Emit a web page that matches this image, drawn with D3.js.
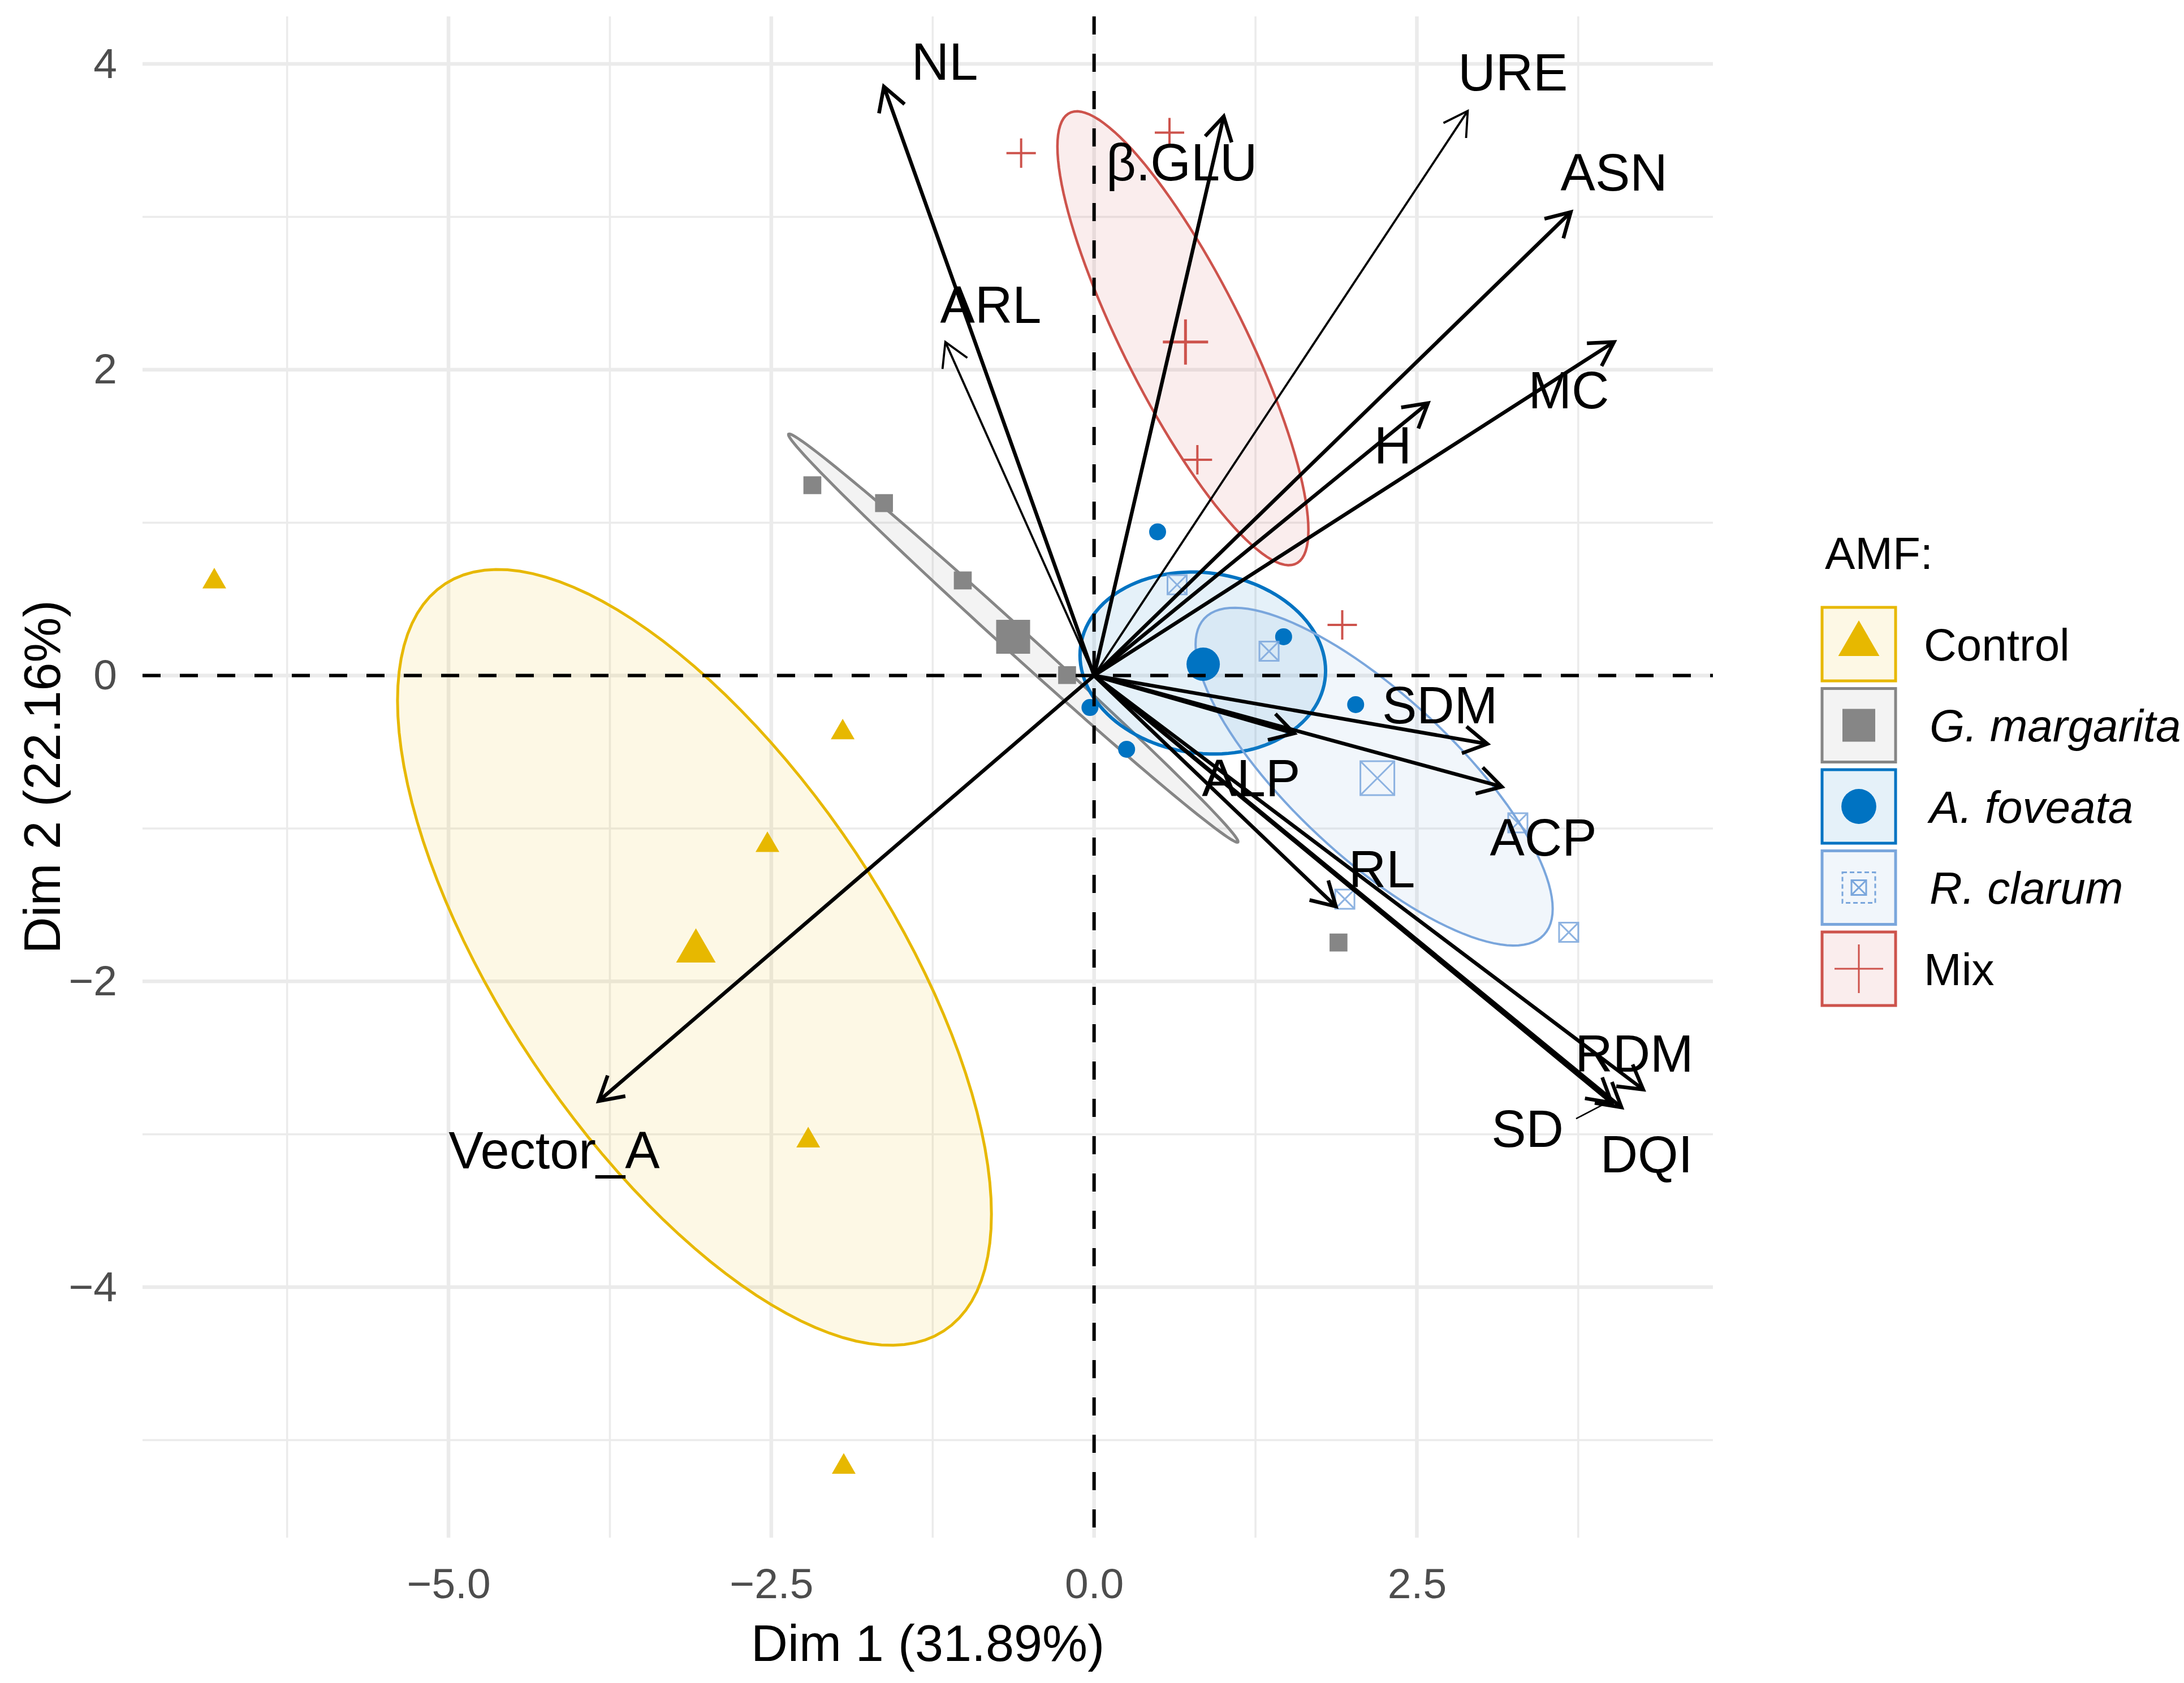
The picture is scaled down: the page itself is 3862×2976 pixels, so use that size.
<!DOCTYPE html>
<html>
<head>
    <title>PCA biplot - AMF</title>
    <script src="https://cdnjs.cloudflare.com/ajax/libs/d3/7.8.5/d3.min.js"></script>
    <style>
        body { margin: 0; background: #fff; }
        text { font-family: "Liberation Sans", Arial, sans-serif; }
    </style>
</head>
<body>
    <svg id="chart"></svg>

    <script>
        const width = 3862;
        const height = 2976;
        const panel = {left: 252, right: 3029, top: 29, bottom: 2719};

        // groups (AMF treatment)
        const groups = ["Control", "G. margarita", "A. foveata", "R. clarum", "Mix"];
        const groupItalic = [false, true, true, true, false];
        const groupColors = ["#E7B800", "#868686", "#0073C2", "#7AA6DC", "#CD534C"];

        // individuals (Dim 1, Dim 2)
        const indGroup = [0, 0, 0, 0, 0, 1, 1, 1, 1, 1, 2, 2, 2, 2, 2, 3, 3, 3, 3, 3, 4, 4, 4, 4];
        const indX = [-6.814, -1.947, -2.530, -2.214, -1.939,
                      -2.182, -1.627, -1.017, -0.209, 1.893,
                      1.468, 2.026, -0.032, 0.252, 0.492,
                      1.355, 1.942, 3.282, 3.676, 0.643,
                      0.584, 0.800, 1.922, -0.565];
        const indY = [0.615, -0.372, -1.109, -3.041, -5.175,
                      1.245, 1.128, 0.622, 0.003, -1.746,
                      0.254, -0.190, -0.209, -0.482, 0.940,
                      0.159, -1.462, -0.963, -1.679, 0.594,
                      3.551, 1.411, 0.331, 3.417];

        // group means
        const meanX = [-3.084, -0.627, 0.845, 2.194, 0.708];
        const meanY = [-1.802, 0.254, 0.074, -0.671, 2.182];

        // ellipses: centre and two conjugate semi-axes
        const ellCx = [-3.095, -0.626, 0.842, 2.169, 0.688];
        const ellCy = [-1.843, 0.245, 0.082, -0.661, 2.206];
        const ellUx = [2.300, 1.740, 0.951, 1.383, 0.972];
        const ellUy = [-1.679, -1.334, -0.051, -0.864, -1.254];
        const ellVx = [0, -0.065, 0, 0, 0];
        const ellVy = [1.902, -0.060, 0.593, 0.688, 0.794];

        // variables (arrow tips) and their label positions
        const varNames = ["NL", "ARL", "β.GLU", "URE", "ASN", "MC", "H", "SDM", "ACP", "ALP",
                          "RL", "RDM", "SD", "DQI", "Vector_A"];
        const varX = [-1.628, -1.152, 1.004, 2.894, 3.692, 4.027, 2.586, 3.046, 3.158, 1.550,
                      1.873, 4.253, 4.009, 4.085, -3.837];
        const varY = [3.852, 2.182, 3.657, 3.693, 3.031, 2.182, 1.782, -0.447, -0.727, -0.378,
                      -1.510, -2.707, -2.794, -2.824, -2.783];
        const varThin = [false, true, false, true, false, false, false, false, false, false,
                         false, false, false, false, false];
        const labelX = [-1.157, -0.800, 0.679, 3.244, 4.027, 3.676, 2.314, 2.678, 3.479, 1.216,
                        2.229, 4.184, 3.357, 4.278, -4.182];
        const labelY = [4.020, 2.430, 3.360, 3.949, 3.295, 1.871, 1.508, -0.190, -1.056, -0.665,
                        -1.261, -2.467, -2.960, -3.127, -3.100];
        // leader segment for the SD label
        const leaderX = [3.733, 3.968];
        const leaderY = [-2.898, -2.794];

        // axes
        const xTicks = [-5, -2.5, 0, 2.5];
        const xMinor = [-6.25, -3.75, -1.25, 1.25, 3.75];
        const yTicks = [-4, -2, 0, 2, 4];
        const yMinor = [-5, -3, -1, 1, 3];

        const svg = d3.select("#chart")
            .attr("width", width)
            .attr("height", height);

        svg.append("rect").attr("width", width).attr("height", height).attr("fill", "#fff");

        const x = d3.scaleLinear().domain([-7.37, 4.793]).range([panel.left, panel.right]);
        const y = d3.scaleLinear().domain([-5.638, 4.311]).range([panel.bottom, panel.top]);

        // grid
        const grid = svg.append("g");
        grid.selectAll(".xminor").data(xMinor).join("line")
            .attr("x1", d => x(d)).attr("x2", d => x(d))
            .attr("y1", panel.top).attr("y2", panel.bottom)
            .attr("stroke", "#EBEBEB").attr("stroke-width", 3.5);
        grid.selectAll(".yminor").data(yMinor).join("line")
            .attr("y1", d => y(d)).attr("y2", d => y(d))
            .attr("x1", panel.left).attr("x2", panel.right)
            .attr("stroke", "#EBEBEB").attr("stroke-width", 3.5);
        grid.selectAll(".xmajor").data(xTicks).join("line")
            .attr("x1", d => x(d)).attr("x2", d => x(d))
            .attr("y1", panel.top).attr("y2", panel.bottom)
            .attr("stroke", "#EBEBEB").attr("stroke-width", 6.5);
        grid.selectAll(".ymajor").data(yTicks).join("line")
            .attr("y1", d => y(d)).attr("y2", d => y(d))
            .attr("x1", panel.left).attr("x2", panel.right)
            .attr("stroke", "#EBEBEB").attr("stroke-width", 6.5);

        const plot = svg.append("g");

        // ellipses
        const ellLine = d3.line().x(d => x(d[0])).y(d => y(d[1])).curve(d3.curveLinearClosed);
        const ellWidths = [5, 5, 6, 4, 4.5];
        groups.forEach((g, i) => {
            const pts = d3.range(120).map(k => {
                const t = k / 120 * 2 * Math.PI;
                return [ellCx[i] + ellUx[i] * Math.cos(t) + ellVx[i] * Math.sin(t),
                        ellCy[i] + ellUy[i] * Math.cos(t) + ellVy[i] * Math.sin(t)];
            });
            plot.append("path")
                .attr("d", ellLine(pts))
                .attr("fill", groupColors[i]).attr("fill-opacity", 0.1)
                .attr("stroke", groupColors[i]).attr("stroke-width", ellWidths[i]);
        });

        // point symbols
        function plusPath(h) { return `M${-h},0H${h}M0,${-h}V${h}`; }
        function boxXPath(h) {
            return `M${-h},${-h}H${h}V${h}H${-h}ZM${-h},${-h}L${h},${h}M${h},${-h}L${-h},${h}`;
        }
        function symbolPath(gi, big) {
            if (gi === 0) return d3.symbol(d3.symbolTriangle, big ? 2122 : 764)();
            if (gi === 1) return d3.symbol(d3.symbolSquare, big ? 3600 : 1000)();
            if (gi === 2) return d3.symbol(d3.symbolCircle, big ? 2734 : 707)();
            if (gi === 3) return boxXPath(big ? 30 : 17);
            return plusPath(big ? 40 : 26);
        }
        function styleSymbol(sel, gi, big) {
            if (gi < 3) {
                sel.attr("fill", groupColors[gi]).attr("stroke", "none");
            } else {
                sel.attr("fill", "none").attr("stroke", groupColors[gi])
                    .attr("stroke-width", gi === 3 ? 3 : (big ? 5 : 4))
                    .attr("stroke-opacity", gi === 3 ? 0.85 : 1);
            }
        }

        indX.forEach((v, i) => {
            const gi = indGroup[i];
            plot.append("path")
                .attr("d", symbolPath(gi, false))
                .attr("transform", `translate(${x(v)},${y(indY[i])})`)
                .call(styleSymbol, gi, false);
        });
        meanX.forEach((v, gi) => {
            plot.append("path")
                .attr("d", symbolPath(gi, true))
                .attr("transform", `translate(${x(v)},${y(meanY[gi])})`)
                .call(styleSymbol, gi, true);
        });

        // dashed reference lines
        plot.append("line")
            .attr("x1", panel.left).attr("x2", panel.right)
            .attr("y1", y(0)).attr("y2", y(0))
            .attr("stroke", "#000").attr("stroke-width", 6).attr("stroke-dasharray", "32,34");
        plot.append("line")
            .attr("x1", x(0)).attr("x2", x(0))
            .attr("y1", panel.top).attr("y2", panel.bottom)
            .attr("stroke", "#000").attr("stroke-width", 6).attr("stroke-dasharray", "32,34");

        // variable arrows
        const headLen = 48;
        varNames.forEach((name, i) => {
            const x0 = x(0), y0 = y(0);
            const x1 = x(varX[i]), y1 = y(varY[i]);
            const a = Math.atan2(y1 - y0, x1 - x0);
            const w = varThin[i] ? 3.8 : 6.5;
            plot.append("line")
                .attr("x1", x0).attr("y1", y0).attr("x2", x1).attr("y2", y1)
                .attr("stroke", "#000").attr("stroke-width", w);
            const ax1 = x1 - headLen * Math.cos(a - Math.PI / 6), ay1 = y1 - headLen * Math.sin(a - Math.PI / 6);
            const ax2 = x1 - headLen * Math.cos(a + Math.PI / 6), ay2 = y1 - headLen * Math.sin(a + Math.PI / 6);
            plot.append("path")
                .attr("d", `M${ax1},${ay1}L${x1},${y1}L${ax2},${ay2}`)
                .attr("fill", "none").attr("stroke", "#000").attr("stroke-width", w)
                .attr("stroke-linejoin", "miter");
        });

        plot.append("line")
            .attr("x1", x(leaderX[0])).attr("y1", y(leaderY[0]))
            .attr("x2", x(leaderX[1])).attr("y2", y(leaderY[1]))
            .attr("stroke", "#000").attr("stroke-width", 2.5);

        plot.selectAll(".varlabel").data(varNames).join("text")
            .attr("x", (d, i) => x(labelX[i]))
            .attr("y", (d, i) => y(labelY[i]))
            .attr("dy", "0.36em")
            .attr("text-anchor", "middle")
            .attr("font-size", 92)
            .attr("fill", "#000")
            .text(d => d);

        // axes
        const xAxis = svg.append("g")
            .attr("transform", `translate(0,${panel.bottom})`)
            .call(d3.axisBottom(x).tickValues(xTicks).tickFormat(d3.format(".1f")).tickSize(0).tickPadding(54));
        const yAxis = svg.append("g")
            .attr("transform", `translate(${panel.left},0)`)
            .call(d3.axisLeft(y).tickValues(yTicks).tickFormat(d3.format("d")).tickSize(0).tickPadding(45));
        [xAxis, yAxis].forEach(ax => {
            ax.select(".domain").remove();
            ax.selectAll("text")
                .attr("font-size", 75)
                .attr("fill", "#4D4D4D")
                .style("font-family", "\"Liberation Sans\", Arial, sans-serif");
        });

        svg.append("text")
            .attr("x", (panel.left + panel.right) / 2)
            .attr("y", 2937)
            .attr("text-anchor", "middle")
            .attr("font-size", 90)
            .text("Dim 1 (31.89%)");
        svg.append("text")
            .attr("transform", `translate(106,${(panel.top + panel.bottom) / 2}) rotate(-90)`)
            .attr("text-anchor", "middle")
            .attr("font-size", 90)
            .text("Dim 2 (22.16%)");

        // legend
        const legend = svg.append("g").attr("transform", "translate(3220,1072)");
        const keySize = 134, pitch = 143.5;
        legend.append("text")
            .attr("x", 7).attr("y", -66)
            .attr("font-size", 80)
            .text("AMF:");
        groups.forEach((g, i) => {
            const row = legend.append("g").attr("transform", `translate(0,${i * pitch})`);
            row.append("rect")
                .attr("x", 2).attr("y", 2)
                .attr("width", keySize - 4).attr("height", keySize - 4)
                .attr("fill", groupColors[i]).attr("fill-opacity", 0.1)
                .attr("stroke", groupColors[i]).attr("stroke-width", 5);
            const cx = keySize / 2, cy = keySize / 2;
            let sym;
            if (i === 0) sym = d3.symbol(d3.symbolTriangle, 2300)();
            else if (i === 1) sym = d3.symbol(d3.symbolSquare, 3364)();
            else if (i === 2) sym = d3.symbol(d3.symbolCircle, 3000)();
            else if (i === 3) sym = boxXPath(13);
            else sym = plusPath(43);
            const p = row.append("path")
                .attr("d", sym)
                .attr("transform", `translate(${cx},${cy})`);
            if (i < 3) p.attr("fill", groupColors[i]);
            else p.attr("fill", "none").attr("stroke", groupColors[i]).attr("stroke-width", 3);
            if (i === 3) {
                row.append("rect")
                    .attr("x", cx - 29).attr("y", cy - 27).attr("width", 58).attr("height", 54)
                    .attr("fill", "none").attr("stroke", groupColors[i])
                    .attr("stroke-width", 3).attr("stroke-dasharray", "8,5");
            }
            row.append("text")
                .attr("x", groupItalic[i] ? 192 : 182)
                .attr("y", cy)
                .attr("dy", "0.36em")
                .attr("font-size", 80)
                .attr("font-style", groupItalic[i] ? "italic" : "normal")
                .text(g);
        });
    </script>
</body>
</html>
